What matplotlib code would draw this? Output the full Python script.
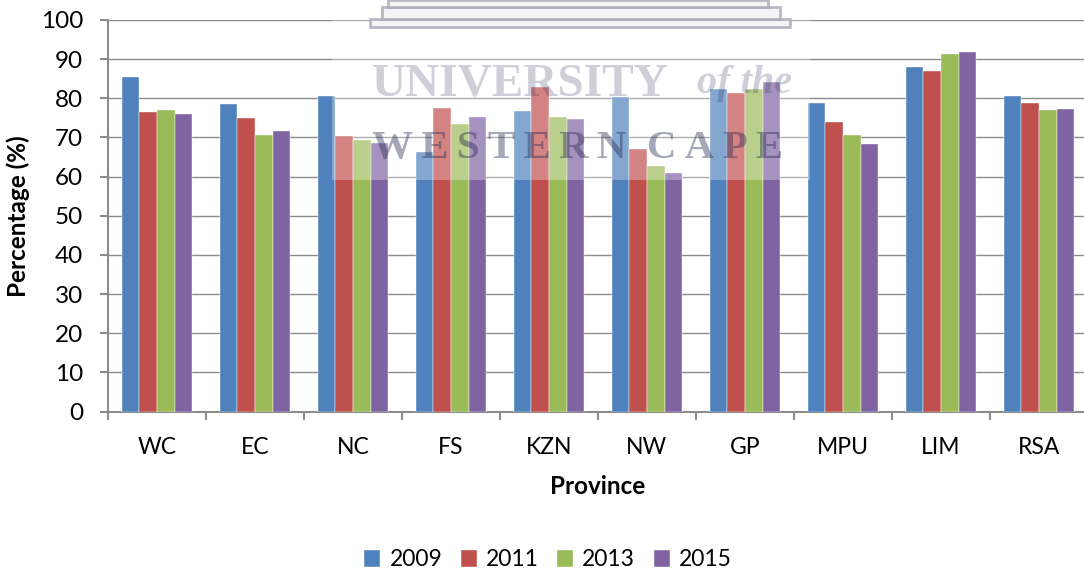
import numpy as np
import matplotlib
matplotlib.use("Agg")
import matplotlib.pyplot as plt
from matplotlib.patches import Rectangle

W, H = 1084, 573

provinces = ["WC", "EC", "NC", "FS", "KZN", "NW", "GP", "MPU", "LIM", "RSA"]
y2009 = [85.5, 78.6, 80.5, 66.4, 76.8, 80.3, 82.5, 78.7, 88.1, 80.5]
y2011 = [76.5, 75.0, 70.3, 77.4, 82.8, 67.0, 81.4, 74.0, 86.9, 78.8]
y2013 = [77.0, 70.5, 69.4, 73.4, 75.2, 62.7, 82.3, 70.6, 91.3, 77.0]
y2015 = [76.0, 71.6, 68.7, 75.1, 74.7, 61.0, 84.1, 68.2, 91.7, 77.2]
series = {"2009": y2009, "2011": y2011, "2013": y2013, "2015": y2015}
colors = ["#4f81bd", "#c0504d", "#9bbb59", "#8064a2"]

plt.rcParams["font.family"] = ["Lato", "DejaVu Sans"]

fig = plt.figure(figsize=(W / 100, H / 100), dpi=100)
ax = fig.add_axes([108 / W, 1 - 411.5 / H, 980 / W, 391.5 / H])

# bars
x = np.arange(len(provinces))
width = 0.18
for i, (name, vals) in enumerate(series.items()):
    ax.bar(x + 0.14 + width * (i + 0.5), vals, width, color=colors[i], label=name,
           edgecolor="white", linewidth=0.3, zorder=3)

ax.set_xlim(0, 10)
ax.set_ylim(0, 100)
ax.set_yticks(range(0, 101, 10))
ax.set_xticks(range(0, 11))
ax.set_xticks(x + 0.5, minor=True)
ax.set_xticklabels([])
ax.set_xticklabels(provinces, minor=True)
ax.grid(axis="y", color="#8c8c8c", lw=1, zorder=0)
ax.set_axisbelow(True)

for s in ["top", "right"]:
    ax.spines[s].set_visible(False)
for s in ["left", "bottom"]:
    ax.spines[s].set_color("#8c8c8c")
    ax.spines[s].set_linewidth(1.5)

ax.tick_params(axis="y", which="major", length=6, width=1.5, color="#8c8c8c", labelsize=17.5, pad=12)
ax.tick_params(axis="x", which="major", length=6, width=1.5, color="#8c8c8c")
ax.tick_params(axis="x", which="minor", length=0, labelsize=16.5, pad=18)

fig.text(18 / W, 1 - 216 / H, "Percentage (%)", rotation=90, fontsize=17.5, fontweight="bold",
         ha="center", va="center")
fig.text(598 / W, 1 - 487 / H, "Province", fontsize=17.5, fontweight="bold", ha="center", va="center")

fig.legend(loc="center", bbox_to_anchor=(548 / W, 1 - 560 / H), ncol=4, frameon=False, fontsize=16.5,
           handlelength=0.7, handleheight=0.7, handletextpad=0.4, columnspacing=0.8)


# watermark over the chart, given in pixels from the top left
def box(x0, y0, x1, y1, **kw):
    fig.add_artist(Rectangle((x0 / W, 1 - y1 / H), (x1 - x0) / W, (y1 - y0) / H,
                             transform=fig.transFigure, zorder=5, **kw))


box(332, 0, 810, 180, facecolor="white", edgecolor="none", alpha=0.3)
for step in [(370, 19, 790, 27), (382, 7, 780, 19), (388, 0, 768, 7)]:
    box(*step, facecolor="#f2f2f6", edgecolor="#a8a8b8", linewidth=2, alpha=0.8)

mark = "#20264f"
fig.text(372 / W, 1 - 95 / H, "UNIVERSITY", family="Liberation Serif", fontweight="bold", fontsize=34,
         color=mark, alpha=0.22, ha="left", va="baseline", zorder=6)
fig.text(697 / W, 1 - 93 / H, "of the", family="Liberation Serif", style="italic", fontweight="bold",
         fontsize=29, color=mark, alpha=0.22, ha="left", va="baseline", zorder=6)
fig.text(372 / W, 1 - 158 / H, "W\u2009E\u2009S\u2009T\u2009E\u2009R\u2009N  C\u2009A\u2009P\u2009E",
         family="Liberation Serif", fontweight="bold", fontsize=29.5, color=mark, alpha=0.4,
         ha="left", va="baseline", zorder=6)

fig.savefig("out.png", dpi=100)
